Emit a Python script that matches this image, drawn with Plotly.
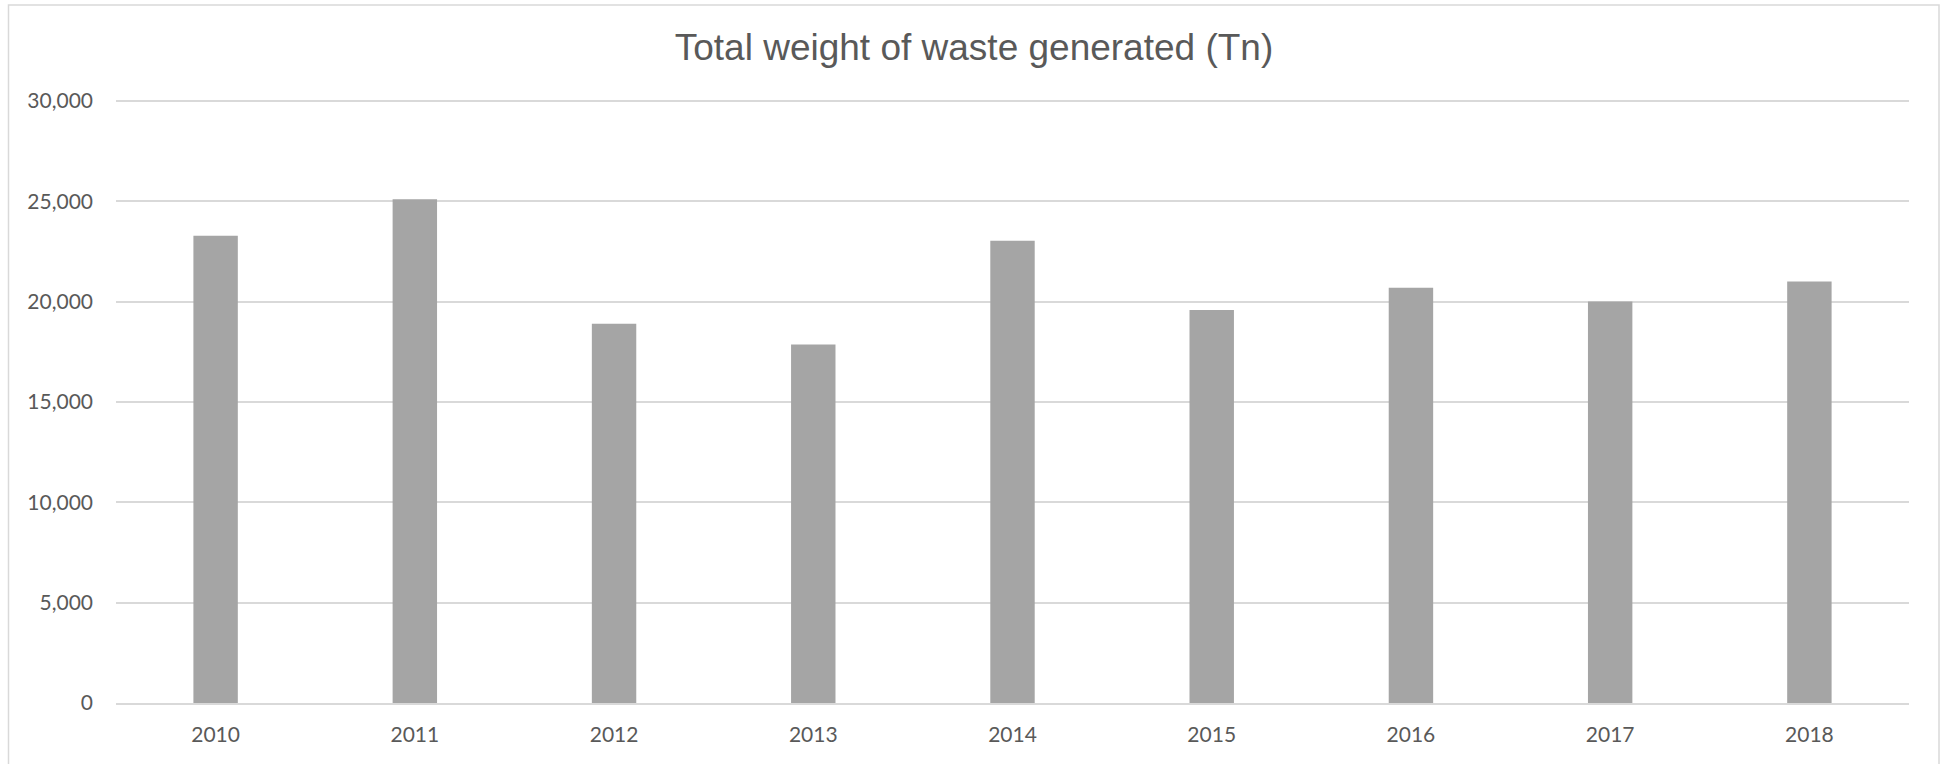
import plotly.graph_objects as go

# Annual totals of generated waste, in tonnes
years = ["2010", "2011", "2012", "2013", "2014", "2015", "2016", "2017", "2018"]
waste_tn = [23280, 25100, 18900, 17870, 23030, 19590, 20700, 20010, 21000]

y_ticks = [0, 5000, 10000, 15000, 20000, 25000, 30000]
y_tick_labels = ["0", "5,000", "10,000", "15,000", "20,000", "25,000", "30,000"]
y_max = 30150  # small headroom so the 30,000 gridline is not clipped at the edge

W, H = 1948, 764
ML, MR, MT, MB = 116, 39, 97.5, 60.7
PW, PH = W - ML - MR, H - MT - MB

TEXT = "#595959"
GRID = "#d9d9d9"

fig = go.Figure(
    go.Bar(
        x=years,
        y=waste_tn,
        marker=dict(color="#a5a5a5", line=dict(width=0)),
        hoverinfo="x+y",
    )
)

# Outer chart frame, expressed in paper units of the plot area
def px_x(px):
    return (px - ML) / PW

def px_y(py):
    return (H - MB - py) / PH

fig.add_shape(
    type="rect",
    xref="paper", yref="paper",
    x0=px_x(8.5), x1=px_x(1939), y0=px_y(770), y1=px_y(4.5),
    line=dict(color=GRID, width=1.5),
    fillcolor="rgba(0,0,0,0)",
    layer="below",
)

fig.update_layout(
    width=W,
    height=H,
    margin=dict(l=ML, r=MR, t=MT, b=MB, pad=0),
    paper_bgcolor="white",
    plot_bgcolor="white",
    showlegend=False,
    bargap=0.777,
    title=dict(
        text="Total weight of waste generated (Tn)",
        font=dict(family="Liberation Sans, Arial, sans-serif", size=37, color=TEXT),
        x=0.5,
        xref="container",
        xanchor="center",
        y=1 - 47 / H,
        yref="container",
        yanchor="middle",
    ),
    font=dict(family="Lato, sans-serif", color=TEXT),
    xaxis=dict(
        type="category",
        showgrid=False,
        showline=True,
        linecolor=GRID,
        linewidth=2,
        ticks="",
        tickfont=dict(size=21, color=TEXT),
        ticklabelstandoff=12,
        zeroline=False,
        fixedrange=True,
    ),
    yaxis=dict(
        range=[0, y_max],
        tickvals=y_ticks,
        ticktext=y_tick_labels,
        showgrid=True,
        gridcolor=GRID,
        gridwidth=2,
        showline=False,
        zeroline=False,
        ticks="",
        tickfont=dict(size=21, color=TEXT),
        ticklabelstandoff=22,
        fixedrange=True,
    ),
)

fig.write_html("out.html", config={"displayModeBar": False})
